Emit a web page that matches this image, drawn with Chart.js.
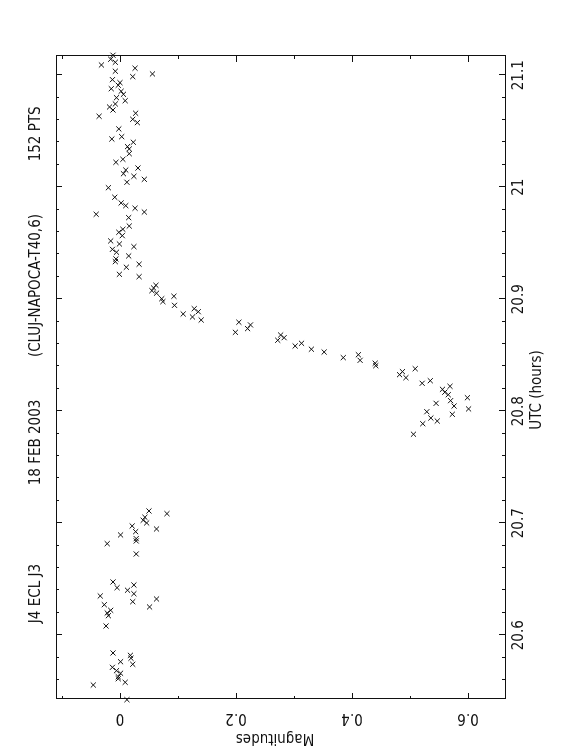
<!DOCTYPE html>
<html>
<head>
<meta charset="utf-8">
<script src="https://cdn.jsdelivr.net/npm/chart.js@4.4.1/dist/chart.umd.min.js"></script>
<style>
  html, body { margin: 0; padding: 0; background: #fff; }
  #wrap { position: relative; width: 562px; height: 756px; overflow: hidden; }
  /* the plot is drawn landscape and turned a quarter turn, like the original PGPLOT page */
  #lc {
    position: absolute; left: 0; top: 0;
    width: 756px; height: 562px;
    transform-origin: 0 0;
    transform: translateY(756px) rotate(-90deg);
  }
</style>
</head>
<body>
<div id="wrap"><canvas id="lc" width="756" height="562"></canvas></div>
<script>
// J4 eclipse of J3, 18 Feb 2003, Cluj-Napoca T40 - 152 points
const utcHours = [
  20.5425, 20.5556, 20.5580, 20.5612, 20.5630, 20.5661, 20.5684, 20.5714, 20.5741, 20.5764,
  20.5795, 20.5821, 20.5842, 20.6083, 20.6175, 20.6199, 20.6223, 20.6253, 20.6273, 20.6300,
  20.6324, 20.6351, 20.6371, 20.6402, 20.6425, 20.6449, 20.6476, 20.6726, 20.6818, 20.6842,
  20.6863, 20.6896, 20.6925, 20.6949, 20.6976, 20.7003, 20.7027, 20.7054, 20.7086, 20.7110,
  20.7795, 20.7889, 20.7913, 20.7940, 20.7973, 20.7996, 20.8021, 20.8047, 20.8071, 20.8095,
  20.8121, 20.8148, 20.8170, 20.8196, 20.8223, 20.8273, 20.8250, 20.8300, 20.8327, 20.8354,
  20.8380, 20.8407, 20.8429, 20.8455, 20.8505, 20.8479, 20.8529, 20.8554, 20.8607, 20.8583,
  20.8634, 20.8657, 20.8681, 20.8705, 20.8738, 20.8771, 20.8795, 20.8815, 20.8842, 20.8889,
  20.8916, 20.8869, 20.8946, 20.8979, 20.9027, 20.9005, 20.9054, 20.9077, 20.9101, 20.9125,
  20.9202, 20.9223, 20.9286, 20.9313, 20.9336, 20.9360, 20.9387, 20.9420, 20.9446, 20.9470,
  20.9494, 20.9521, 20.9568, 20.9598, 20.9625, 20.9654, 20.9729, 20.9759, 20.9779, 20.9813,
  20.9836, 20.9860, 20.9911, 20.9996, 21.0045, 21.0071, 21.0098, 21.0121, 21.0154, 21.0172,
  21.0223, 21.0250, 21.0300, 21.0342, 21.0363, 21.0402, 21.0431, 21.0452, 21.0521, 21.0577,
  21.0607, 21.0634, 21.0661, 21.0690, 21.0717, 21.0744, 21.0773, 21.0800, 21.0830, 21.0857,
  21.0880, 21.0911, 21.0934, 21.0961, 21.0988, 21.1012, 21.1036, 21.1063, 21.1092, 21.1116,
  21.1143, 21.1179
];
const magnitudes = [
  0.012, -0.046, 0.009, -0.003, -0.003, 0.001, -0.006, -0.013, 0.022, 0.001,
  0.019, 0.018, -0.012, -0.024, -0.020, -0.022, -0.016, 0.051, -0.027, 0.022,
  0.063, -0.034, 0.024, 0.013, -0.005, 0.024, -0.012, 0.028, -0.022, 0.028,
  0.028, 0.001, 0.027, 0.063, 0.021, 0.046, 0.040, 0.043, 0.081, 0.050,
  0.506, 0.522, 0.547, 0.536, 0.573, 0.529, 0.601, 0.576, 0.545, 0.570,
  0.599, 0.566, 0.560, 0.556, 0.569, 0.535, 0.521, 0.493, 0.482, 0.487,
  0.509, 0.441, 0.440, 0.414, 0.411, 0.385, 0.352, 0.330, 0.313, 0.302,
  0.272, 0.283, 0.277, 0.199, 0.220, 0.225, 0.205, 0.140, 0.125, 0.135,
  0.128, 0.109, 0.094, 0.074, 0.093, 0.072, 0.063, 0.055, 0.058, 0.062,
  0.033, -0.001, 0.011, 0.033, -0.008, -0.007, 0.015, -0.006, -0.013, 0.024,
  -0.001, -0.016, 0.004, -0.002, 0.005, 0.016, 0.015, -0.041, 0.042, 0.026,
  0.010, 0.002, -0.009, -0.020, 0.012, 0.042, 0.024, 0.006, 0.010, 0.031,
  -0.007, 0.005, 0.016, 0.016, 0.013, 0.023, -0.014, 0.003, -0.002, 0.030,
  0.022, -0.036, 0.027, -0.012, -0.018, -0.008, 0.009, -0.006, 0.006, 0.002,
  -0.015, -0.003, 0.000, -0.013, 0.022, 0.056, -0.008, 0.026, -0.032, -0.008,
  -0.016, -0.012
];
const titleParts = ['J4 ECL J3', '18 FEB 2003', '(CLUJ-NAPOCA-T40,6)', '152 PTS'];
const xTitle = 'UTC (hours)';
const yTitle = 'Magnitudes';

const FONT = "'Liberation Sans Narrow', 'DejaVu Sans Condensed', 'Liberation Sans', sans-serif";
const INK = '#111';

function tickText(v) {
    return String(parseFloat(v.toFixed(2)));
}

// frame with inward major/minor ticks on all four sides (pgplot style)
const frameTicks = {
    id: 'frameTicks',
    beforeDraw(chart) {
        const ctx = chart.ctx;
        ctx.save();
        ctx.fillStyle = '#fff';
        ctx.fillRect(0, 0, chart.width, chart.height);
        ctx.restore();
    },
    afterDatasetsDraw(chart) {
        const { ctx, chartArea: a, scales: { x, y } } = chart;
        ctx.save();
        ctx.strokeStyle = INK;
        ctx.lineWidth = 1;
        ctx.strokeRect(a.left + 0.5, a.top + 0.5, a.right - a.left, a.bottom - a.top);
        ctx.beginPath();
        for (let k = Math.ceil(x.min / 0.02 - 1e-6); k * 0.02 <= x.max; k++) {
            const px = Math.round(x.getPixelForValue(k * 0.02)) + 0.5;
            const len = k % 5 === 0 ? 6 : 3;
            ctx.moveTo(px, a.bottom); ctx.lineTo(px, a.bottom - len);
            ctx.moveTo(px, a.top); ctx.lineTo(px, a.top + len);
        }
        for (let k = Math.ceil(y.min / 0.1 - 1e-6); k * 0.1 <= y.max; k++) {
            const py = Math.round(y.getPixelForValue(k * 0.1)) + 0.5;
            const len = k % 2 === 0 ? 6 : 3;
            ctx.moveTo(a.left, py); ctx.lineTo(a.left + len, py);
            ctx.moveTo(a.right, py); ctx.lineTo(a.right - len, py);
        }
        ctx.stroke();
        ctx.restore();
    },
    afterDraw(chart) {
        const { ctx, chartArea: a } = chart;
        const w = a.right - a.left;
        ctx.save();
        ctx.fillStyle = INK;
        ctx.font = '15px ' + FONT;
        ctx.textAlign = 'center';
        ctx.textBaseline = 'middle';
        [0.164, 0.399, 0.643, 0.879].forEach((f, i) => {
            ctx.fillText(titleParts[i], a.left + f * w, 36);
        });
        ctx.fillText(xTitle, 366, 537);
        ctx.translate(18, 275);
        ctx.rotate(-Math.PI / 2);
        ctx.fillText(yTitle, 0, 0);
        ctx.restore();
    }
};

new Chart(document.getElementById('lc').getContext('2d'), {
    type: 'scatter',
    data: {
        datasets: [{
            data: utcHours.map((t, i) => ({ x: t, y: magnitudes[i] })),
            pointStyle: 'crossRot',
            pointRadius: 3.6,
            pointHoverRadius: 3.6,
            borderColor: INK,
            borderWidth: 1,
            clip: false
        }]
    },
    options: {
        responsive: false,
        animation: false,
        events: [],
        devicePixelRatio: 1,
        layout: { padding: { left: 0, top: 56, right: 56, bottom: 0 } },
        plugins: { legend: { display: false }, tooltip: { enabled: false } },
        scales: {
            x: {
                type: 'linear',
                min: 20.5431,
                max: 21.1172,
                grid: { display: false, drawTicks: false },
                border: { display: false },
                ticks: {
                    stepSize: 0.1,
                    includeBounds: false,
                    autoSkip: false,
                    maxRotation: 0,
                    padding: 5,
                    color: INK,
                    font: { family: FONT, size: 15 },
                    callback: tickText
                },
                afterFit: s => { s.height = 57; }
            },
            y: {
                type: 'linear',
                reverse: true,
                min: -0.1103,
                max: 0.6638,
                grid: { display: false, drawTicks: false },
                border: { display: false },
                ticks: {
                    stepSize: 0.2,
                    includeBounds: false,
                    autoSkip: false,
                    minRotation: 90,
                    maxRotation: 90,
                    crossAlign: 'center',
                    padding: 8,
                    color: INK,
                    font: { family: FONT, size: 15 },
                    callback: tickText
                },
                afterFit: s => { s.width = 57; }
            }
        }
    },
    plugins: [frameTicks]
});
</script>
</body>
</html>
